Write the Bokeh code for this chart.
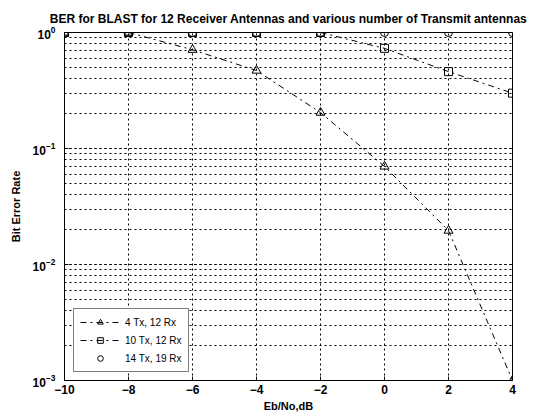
from bokeh.plotting import figure
from bokeh.models import Range1d, Legend, LegendItem, FixedTicker
from bokeh.embed import file_html
from bokeh.resources import INLINE

ebno = [-10, -8, -6, -4, -2, 0, 2, 4]
ber_4tx = [1.0, 1.0, 0.71, 0.47, 0.204, 0.070, 0.0196, 0.001]
ber_10tx = [1.0, 1.0, 1.0, 1.0, 1.0, 0.73, 0.46, 0.30]
ber_14tx = [1.0, 1.0, 1.0, 1.0, 1.0, 1.0, 1.0, 1.0]
labels = ["4 Tx, 12 Rx", "10 Tx, 12 Rx", "14 Tx, 19 Rx"]
title = "BER for BLAST for 12 Receiver Antennas and various number of Transmit antennas"

FONT = "Liberation Sans"

p = figure(width=536, height=414, y_axis_type="log", output_backend="svg",
           toolbar_location=None, x_range=Range1d(-10, 4), y_range=Range1d(1e-3, 1),
           min_border_left=64, min_border_right=24, min_border_top=32, min_border_bottom=34)
p.title.text = title
p.title.align = "center"
p.title.text_font = FONT
p.title.text_font_size = "12px"
p.title.text_font_style = "bold"
p.title.text_color = "black"
p.title.standoff = 13

p.background_fill_color = "white"
p.border_fill_color = "white"
p.outline_line_color = "black"
p.outline_line_width = 1

p.xaxis.ticker = FixedTicker(ticks=ebno)
p.xaxis.axis_label = "Eb/No,dB"
p.yaxis.axis_label = "Bit Error Rate"
for ax in (p.xaxis[0], p.yaxis[0]):
    ax.axis_label_text_font = FONT
    ax.axis_label_text_font_size = "11px"
    ax.axis_label_text_font_style = "bold"
    ax.axis_label_text_color = "black"
    ax.major_label_text_font = FONT
    ax.major_label_text_font_size = "12px"
    ax.major_label_text_font_style = "bold"
    ax.major_label_text_color = "black"
    ax.axis_line_color = "black"
    ax.major_tick_line_color = "black"
    ax.major_tick_in = 4
    ax.major_tick_out = 0
    ax.minor_tick_line_color = None
p.xaxis.axis_label_standoff = 3
p.xaxis.major_label_standoff = 4
p.yaxis.axis_label_standoff = 8

for g in (p.xgrid[0], p.ygrid[0]):
    g.grid_line_color = "black"
    g.grid_line_dash = "2 3"
    g.grid_line_width = 1
p.ygrid.minor_grid_line_color = "black"
p.ygrid.minor_grid_line_dash = "2 3"

r1 = p.line(ebno, ber_4tx, line_color="black", line_dash="dashdot", line_width=1)
s1 = p.scatter(ebno, ber_4tx, marker="triangle", size=9, fill_color=None, line_color="black")
r2 = p.line(ebno, ber_10tx, line_color="black", line_dash="dashdot", line_width=1)
s2 = p.scatter(ebno, ber_10tx, marker="square", size=8, fill_color=None, line_color="black")
r3 = p.line(ebno, ber_14tx, line_color="black", line_dash="dashed", line_width=1)
s3 = p.scatter(ebno, ber_14tx, marker="circle", size=8, fill_color=None, line_color="black")

legend = Legend(items=[
    LegendItem(label=labels[0], renderers=[r1, s1]),
    LegendItem(label=labels[1], renderers=[r2, s2]),
    LegendItem(label=labels[2], renderers=[s3]),
], location=(9, 8))
legend.label_text_font = FONT
legend.label_text_font_size = "10px"
legend.label_text_color = "black"
legend.border_line_color = "black"
legend.border_line_width = 1
legend.background_fill_alpha = 1
legend.glyph_width = 40
legend.glyph_height = 14
legend.spacing = 4
legend.padding = 6
legend.margin = 0
p.add_layout(legend, "center")

open("out.html", "w").write(file_html(p, INLINE))
